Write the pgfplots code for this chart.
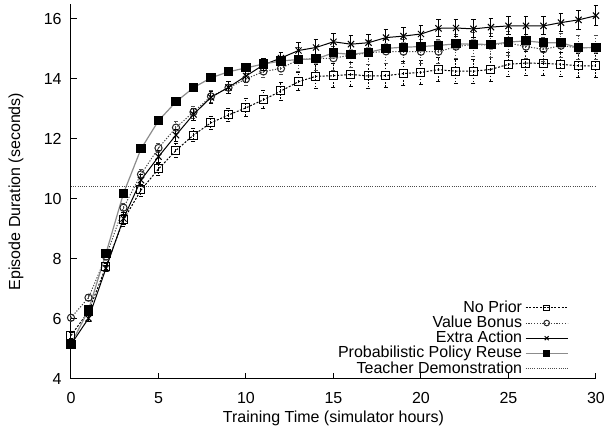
\documentclass[border=0pt]{standalone}
\usepackage{fontspec}
\setmainfont{Liberation Sans}
\usepackage{pgfplots}
\usepackage{pgfplotstable}
\pgfplotsset{compat=1.18}

% columns: time (h), mean episode duration (s), error
\pgfplotstableread{
x y e
0 5.45 0.10
1 6.25 0.10
2 7.75 0.10
3 9.30 0.20
4 10.30 0.20
5 11.00 0.20
6 11.62 0.22
7 12.13 0.22
8 12.54 0.22
9 12.80 0.22
10 13.04 0.30
11 13.31 0.30
12 13.60 0.30
13 13.91 0.30
14 14.09 0.40
15 14.11 0.40
16 14.15 0.40
17 14.10 0.40
18 14.11 0.40
19 14.18 0.40
20 14.22 0.40
21 14.31 0.40
22 14.26 0.40
23 14.26 0.40
24 14.32 0.40
25 14.49 0.40
26 14.53 0.40
27 14.52 0.40
28 14.49 0.40
29 14.44 0.40
30 14.44 0.40
}\noprior

\pgfplotstableread{
x y e
0 6.04 0.10
1 6.71 0.10
2 8.08 0.10
3 9.71 0.15
4 10.82 0.15
5 11.70 0.15
6 12.38 0.20
7 12.90 0.20
8 13.42 0.20
9 13.71 0.20
10 14.00 0.20
11 14.25 0.20
12 14.35 0.20
13 14.65 0.40
14 14.68 0.40
15 14.69 0.40
16 14.80 0.40
17 14.87 0.40
18 14.92 0.40
19 14.91 0.40
20 14.91 0.40
21 14.91 0.40
22 15.08 0.40
23 15.15 0.40
24 15.13 0.40
25 15.20 0.40
26 15.08 0.40
27 14.99 0.40
28 15.11 0.40
29 15.04 0.40
30 15.05 0.40
}\valuebonus

\pgfplotstableread{
x y e
0 5.15 0.10
1 6.02 0.10
2 7.69 0.10
3 9.35 0.20
4 10.63 0.20
5 11.41 0.20
6 12.13 0.20
7 12.82 0.20
8 13.39 0.20
9 13.72 0.20
10 14.10 0.20
11 14.47 0.20
12 14.70 0.20
13 14.95 0.28
14 15.05 0.28
15 15.24 0.28
16 15.16 0.28
17 15.21 0.28
18 15.38 0.28
19 15.43 0.28
20 15.50 0.28
21 15.69 0.28
22 15.70 0.28
23 15.67 0.30
24 15.73 0.30
25 15.77 0.30
26 15.77 0.30
27 15.77 0.30
28 15.88 0.30
29 15.97 0.32
30 16.11 0.33
}\extraaction

\pgfplotstableread{
x y e
0 5.16 0.10
1 6.30 0.10
2 8.19 0.10
3 10.19 0.12
4 11.67 0.12
5 12.61 0.12
6 13.24 0.12
7 13.71 0.12
8 14.04 0.12
9 14.24 0.12
10 14.37 0.12
11 14.50 0.12
12 14.60 0.12
13 14.65 0.12
14 14.67 0.15
15 14.87 0.15
16 14.82 0.15
17 14.89 0.15
18 15.02 0.15
19 15.06 0.15
20 15.08 0.15
21 15.12 0.15
22 15.17 0.15
23 15.16 0.15
24 15.15 0.15
25 15.23 0.15
26 15.27 0.15
27 15.21 0.15
28 15.21 0.15
29 15.04 0.15
30 15.05 0.15
}\ppr

\pgfplotstableread{
x y
0 10.40
30 10.40
}\teacher

\begin{document}
\fontsize{8}{9}\selectfont
\begin{tikzpicture}
\begin{axis}[
  scale only axis,
  width=262.5pt, height=187.5pt,
  xmin=0, xmax=30, ymin=4, ymax=16.5,
  axis lines=left,
  axis line style={-, line width=0.5pt},
  xtick={0,5,...,30},
  ytick={4,6,...,16},
  tick align=inside,
  major tick length=3pt,
  tick style={line width=0.5pt, black},
  /pgf/number format/assume math mode=true,
  tick label style={font=\fontsize{8}{9}\selectfont},
  yticklabel style={inner sep=0pt, xshift=-4.5pt},
  xticklabel style={inner sep=0pt, yshift=-6.5pt},
  xlabel={Training Time (simulator hours)},
  ylabel={Episode Duration (seconds)},
  xlabel style={at={(axis description cs:0.5,0)}, anchor=center, yshift=-19.5pt},
  ylabel style={at={(axis description cs:-0.105,0.5)}, anchor=center, rotate=0},
  clip=false,
  legend plot pos=right,
  legend cell align=right,
  legend style={draw=none, fill=none, inner sep=0pt,
    at={(axis description cs:0.948,0.0)}, anchor=south east,
    font=\fontsize{8}{9}\selectfont, row sep=-2.4pt,
    nodes={inner sep=1.5pt}},
  legend image code/.code={%
    \draw[mark repeat=2, mark phase=2, #1, mark size=1.4pt]
      plot coordinates {(0pt,0pt) (10.5pt,0pt) (21pt,0pt)};},
  error bars/y dir=both,
  error bars/y explicit,
]
\addplot[black, line width=0.5pt, dash pattern=on 1pt off 0.8pt,
  mark=square, mark size=2pt, mark options={solid, line width=0.5pt},
  error bars/error bar style={black, line width=0.5pt, dash pattern=on 0.8pt off 0.8pt},
  error bars/error mark options={rotate=90, mark size=1pt, solid}]
  table[x=x, y=y, y error=e] {\noprior};
\addlegendentry{No Prior}
\addplot[black!75, line width=0.5pt, dash pattern=on 0.6pt off 0.8pt,
  mark=o, mark size=1.8pt, mark options={solid, black!85, line width=0.5pt},
  error bars/error bar style={black!70, line width=0.5pt, dash pattern=on 0.6pt off 0.8pt},
  error bars/error mark options={rotate=90, mark size=1pt, solid}]
  table[x=x, y=y, y error=e] {\valuebonus};
\addlegendentry{Value Bonus}
\addplot[black, line width=0.5pt, solid,
  mark=x, mark size=2.2pt, mark options={line width=0.5pt},
  error bars/error bar style={black, line width=0.5pt},
  error bars/error mark options={rotate=90, mark size=1.2pt}]
  table[x=x, y=y, y error=e] {\extraaction};
\addlegendentry{Extra Action}
\addplot[black!45, line width=0.6pt, solid,
  mark=square*, mark size=2pt, mark options={fill=black, draw=black},
  error bars/error bar style={black!40, line width=0.5pt},
  error bars/error mark options={rotate=90, mark size=1.2pt, black!40}]
  table[x=x, y=y, y error=e] {\ppr};
\addlegendentry{Probabilistic Policy Reuse}
\addplot[black!70, line width=0.5pt, dash pattern=on 0.5pt off 0.6pt, no marks]
  table[x=x, y=y] {\teacher};
\addlegendentry{Teacher Demonstration}
\end{axis}
\pgfresetboundingbox
\path (-35.5pt,-27pt) rectangle (268pt,189.5pt);
\end{tikzpicture}
\end{document}
